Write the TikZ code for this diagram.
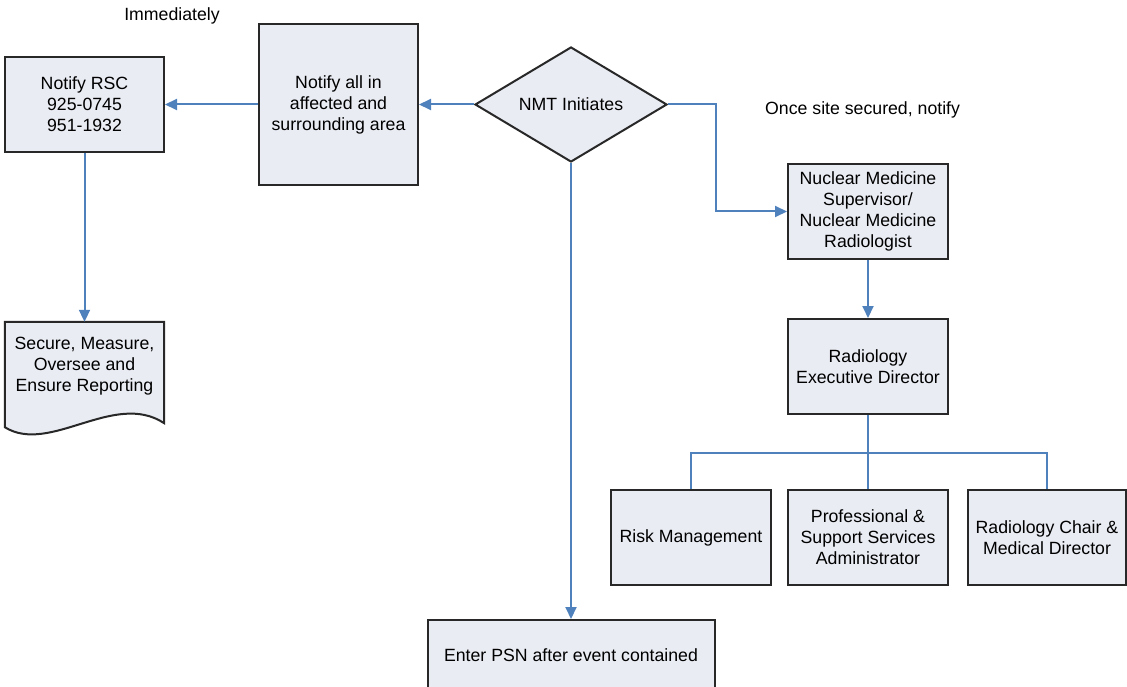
\documentclass[tikz,border=0pt]{standalone}
\usepackage{fontspec}
\setmainfont{Liberation Sans}
\usetikzlibrary{shapes.geometric,arrows.meta,calc}
\definecolor{boxfill}{RGB}{233,236,243}
\definecolor{boxline}{RGB}{40,40,40}
\definecolor{connblue}{RGB}{79,129,189}
\begin{document}
\begin{tikzpicture}[x=1pt,y=-1pt,
  every node/.style={font=\fontsize{17.7}{21}\selectfont, align=center},
  box/.style={draw=boxline, fill=boxfill, line width=2pt, inner sep=0pt},
  dia/.style={diamond, draw=boxline, fill=boxfill, line width=2pt, inner sep=0pt,
              aspect=1.67, minimum width=192pt, minimum height=115pt},
  conn/.style={draw=connblue, line width=2pt},
  arr/.style={conn, -{Triangle[length=12pt,width=11pt]}},
  lbl/.style={inner sep=0pt}
]
\useasboundingbox (0,0) rectangle (1127,687);
\fill[white] (0,0) rectangle (1127,687);

% labels
\node[lbl] (imm) at (172,16) {Immediately};
\node[lbl, anchor=west] (once) at (765,110) {Once site secured, notify};

% nodes
\node[box, minimum width=159pt, minimum height=95pt] (rsc) at (84.5,104.5) {Notify RSC\\925-0745\\951-1932};
\node[box, minimum width=159pt, minimum height=161pt] (all) at (338.5,104.5) {Notify all in\\affected and\\surrounding area};
\node[dia] (nmt) at (571,104.5) {NMT Initiates};
\node[box, minimum width=160pt, minimum height=95pt] (nuc) at (868,211.5) {Nuclear Medicine\\Supervisor/\\Nuclear Medicine\\Radiologist};
\node[box, minimum width=160pt, minimum height=95pt] (exec) at (868,366.5) {Radiology\\Executive Director};
\node[box, minimum width=160pt, minimum height=95pt] (risk) at (691,537.5) {Risk Management};
\node[box, minimum width=160pt, minimum height=95pt] (prof) at (868,537.5) {Professional \&\\Support Services\\Administrator};
\node[box, minimum width=158pt, minimum height=95pt] (chair) at (1047,537.5) {Radiology Chair \&\\Medical Director};
\node[box, minimum width=287pt, minimum height=70pt] (psn) at (571,655) {Enter PSN after event contained};

% document shape
\node[inner sep=0pt, minimum width=159pt, minimum height=88pt] (doc) at (84.5,366) {};
\path[draw=boxline, fill=boxfill, line width=2pt]
  (doc.north west) -- (doc.north east) -- ($(doc.south east)+(0,13)$)
  .. controls ($(doc.south east)+(-50,-20)$) and ($(doc.south west)+(45,45)$) .. ($(doc.south west)+(0,17)$)
  -- cycle;
\node at (doc.center) {Secure, Measure,\\Oversee and\\Ensure Reporting};

% connectors
\draw[arr] (nmt.west) -- (all.east);
\draw[arr] (all.west) -- (rsc.east);
\draw[arr] (rsc.south) -- (doc.north);
\draw[arr] (nmt.east) -- ++(48,0) |- (nuc.west);
\draw[arr] (nuc.south) -- (exec.north);
\draw[arr] (nmt.south) -- (psn.north);
\coordinate (bus) at ($(exec.south)+(0,38)$);
\draw[conn] (exec.south) -- (bus);
\draw[conn] (bus) -- (prof.north);
\draw[conn] (risk.north) |- (bus) -| (chair.north);
\end{tikzpicture}
\end{document}
